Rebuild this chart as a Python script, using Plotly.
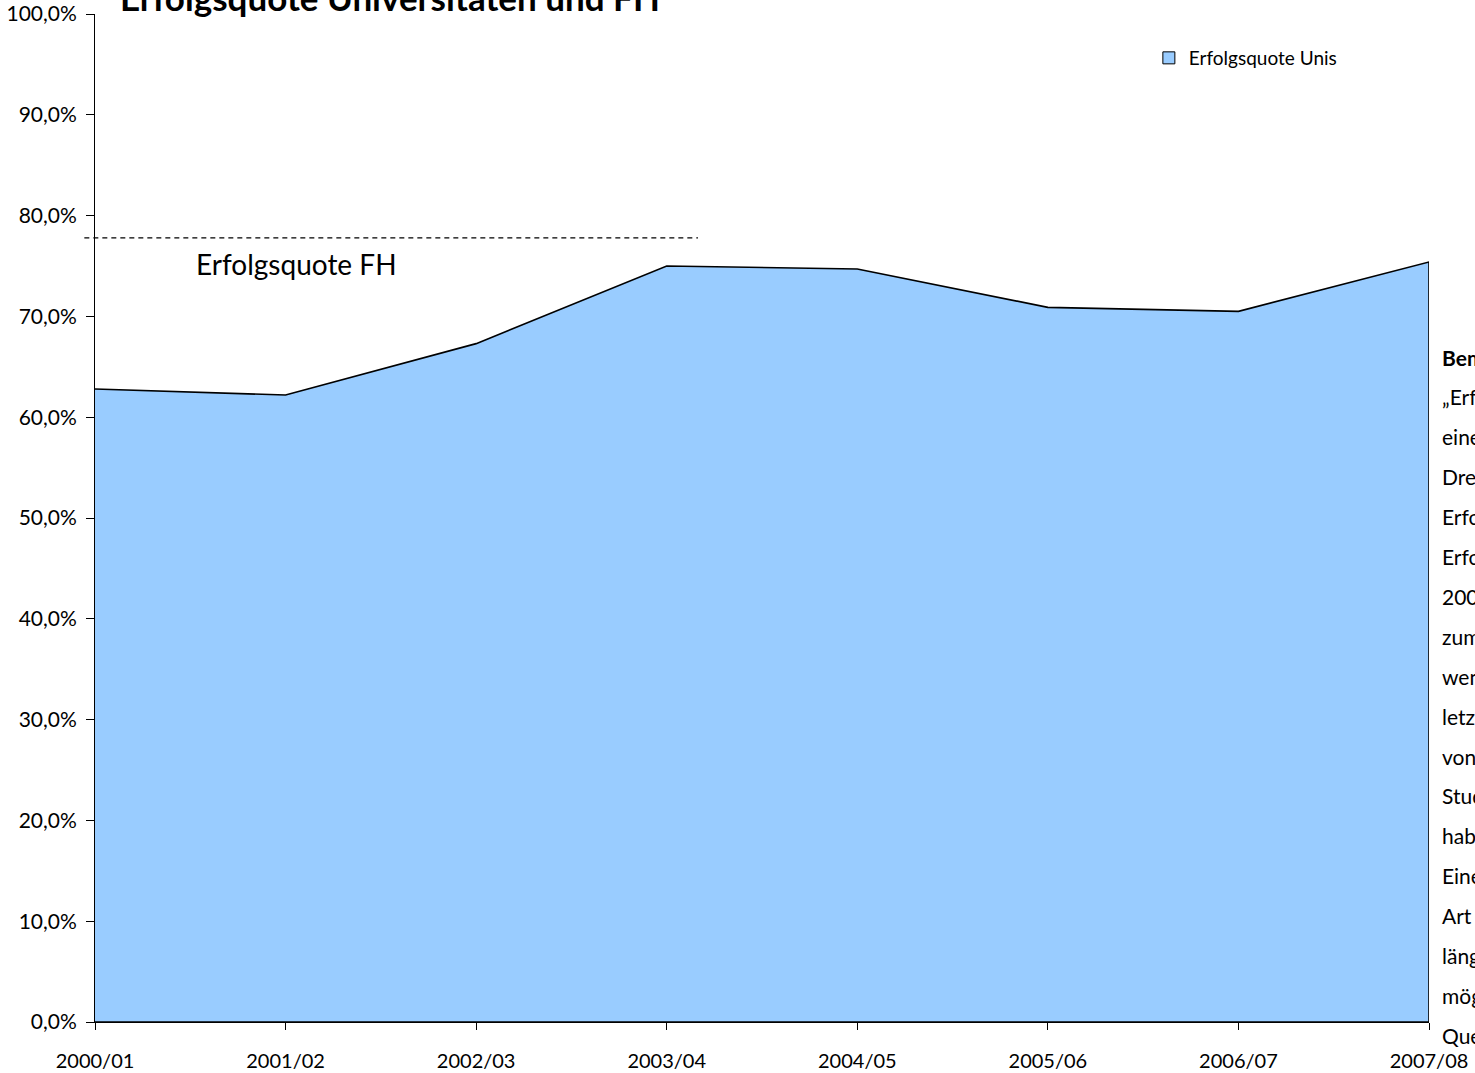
import plotly.graph_objects as go

# ---- data ----
years = ["2000/01", "2001/02", "2002/03", "2003/04", "2004/05", "2005/06", "2006/07", "2007/08"]
quote_unis = [62.8, 62.2, 67.3, 75.0, 74.7, 70.9, 70.5, 75.4]
quote_fh = 77.8
y_tickvals = [0, 10, 20, 30, 40, 50, 60, 70, 80, 90, 100]
y_ticktext = ["0,0%", "10,0%", "20,0%", "30,0%", "40,0%", "50,0%", "60,0%", "70,0%", "80,0%", "90,0%", "100,0%"]
title_text = "Erfolgsquote Universitäten und FH"
series_name = "Erfolgsquote Unis"
fh_label = "Erfolgsquote FH"
note_lines = [
    "<b>Bemerkung:</b>",
    "„Erfolgsquote“ bezeichnet",
    "eine Schätzung auf",
    "Dreijahresbasis der",
    "Erfolgreichen im",
    "Erfolgsjahr; ab",
    "2003/04 beziehen sich",
    "zum Teil Angaben auf",
    "weniger Studierende;",
    "letztere Angaben sind",
    "von Studierenden im",
    "Studium, die",
    "haben.",
    "Eine genauere",
    "Art der Erhebung ist",
    "längerfristig",
    "möglich.",
    "Quelle: BFS",
]

FONT = "Lato, 'Open Sans', sans-serif"
W, H = 1475, 1073
ML, MR, MT, MB = 95, 46, 14, 51
plot_h = H - MT - MB
plot_w = W - ML - MR

fig = go.Figure()

# area (closed polygon so the right edge is outlined)
fig.add_trace(go.Scatter(
    x=years + [years[-1], years[0]],
    y=quote_unis + [0, 0],
    mode="lines",
    fill="toself",
    fillcolor="#99CCFF",
    line=dict(color="black", width=1.6),
    showlegend=False,
    hoverinfo="skip",
))

# legend entry (square swatch)
fig.add_trace(go.Bar(
    x=[None], y=[None], name=series_name,
    marker=dict(color="#99CCFF", line=dict(color="black", width=1)),
    showlegend=True,
))

# dashed FH reference line
fig.add_shape(
    type="line", xref="paper", yref="y",
    x0=-0.008, x1=0.452, y0=quote_fh, y1=quote_fh,
    line=dict(color="black", width=1.2, dash="5px,4px"),
    layer="above",
)
fig.add_annotation(
    x=0.52, y=75.2, xref="x", yref="y", text=fh_label, showarrow=False,
    xanchor="left", yanchor="middle", font=dict(family=FONT, size=28, color="black"),
)

# title (partly cut off at top, as in reference)
fig.add_annotation(
    x=(390 - ML) / plot_w, y=1 + 17 / plot_h, xref="paper", yref="paper",
    text="<b>" + title_text + "</b>", showarrow=False,
    xanchor="center", yanchor="middle", font=dict(family=FONT, size=35, color="black"),
)

# note text on the right (cut off by page edge)
for i, line in enumerate(note_lines):
    py = 357 + i * 39.9
    fig.add_annotation(
        x=(1440 - ML) / plot_w, y=(H - MB - py) / plot_h,
        xref="paper", yref="paper", text=line, showarrow=False,
        xanchor="left", yanchor="middle", font=dict(family=FONT, size=21, color="black"),
    )

fig.update_layout(
    width=W, height=H,
    margin=dict(l=ML, r=MR, t=MT, b=MB, pad=0, autoexpand=False),
    paper_bgcolor="white", plot_bgcolor="white",
    font=dict(family=FONT, color="black"),
    showlegend=True,
    legend=dict(
        x=0.79, y=(H - MB - 58) / plot_h, xanchor="left", yanchor="middle",
        font=dict(family=FONT, size=19, color="black"),
        bgcolor="rgba(0,0,0,0)",
    ),
    xaxis=dict(
        type="category", categoryorder="array", categoryarray=years,
        range=[0, len(years) - 1], automargin=False,
        showgrid=False, zeroline=False,
        showline=True, linecolor="black", linewidth=1,
        ticks="outside", ticklen=7, tickcolor="black", tickwidth=1,
        tickfont=dict(family=FONT, size=20, color="black"),
        ticklabelstandoff=14,
    ),
    yaxis=dict(
        range=[0, 100], tickvals=y_tickvals, ticktext=y_ticktext, automargin=False,
        showgrid=False, zeroline=False,
        showline=True, linecolor="black", linewidth=1,
        ticks="outside", ticklen=8, tickcolor="black", tickwidth=1,
        tickfont=dict(family=FONT, size=21, color="black"),
        ticklabelstandoff=5,
    ),
)

fig.write_html(
    "out.html",
    config={"displayModeBar": False},
    post_script="document.body.style.margin='0';document.body.style.overflow='hidden';",
)
